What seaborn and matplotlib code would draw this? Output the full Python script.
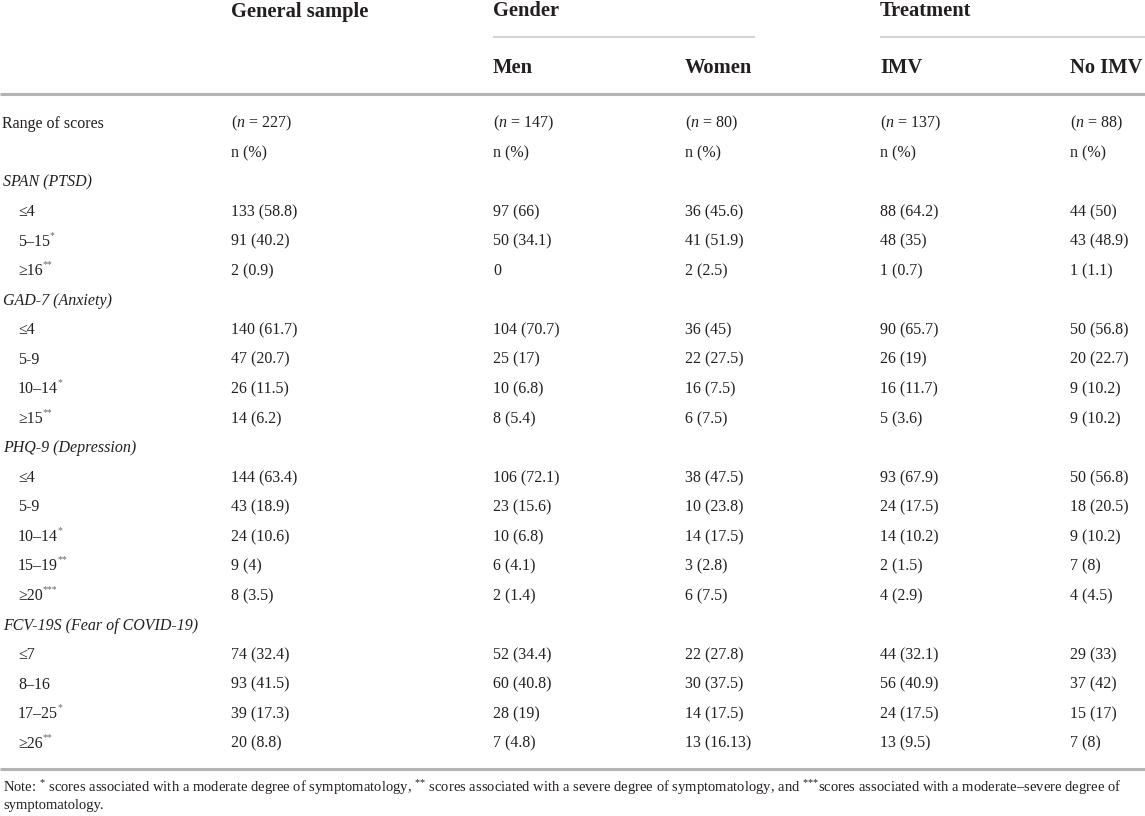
import matplotlib
matplotlib.use("Agg")
import matplotlib.pyplot as plt
import seaborn as sns

# column headers
group_labels = ["General sample", "Gender", "Treatment"]
sub_labels = ["Men", "Women", "IMV", "No IMV"]
n_counts = [227, 147, 80, 137, 88]

# score scales and their ranges (superscript marks kept apart)
scales = ["SPAN (PTSD)", "GAD-7 (Anxiety)", "PHQ-9 (Depression)", "FCV-19S (Fear of COVID-19)"]
ranges = [
    [("≤4", ""), ("5–15", "*"), ("≥16", "**")],
    [("≤4", ""), ("5-9", ""), ("10–14", "*"), ("≥15", "**")],
    [("≤4", ""), ("5-9", ""), ("10–14", "*"), ("15–19", "**"), ("≥20", "***")],
    [("≤7", ""), ("8–16", ""), ("17–25", "*"), ("≥26", "**")],
]

# cells: general, men, women, imv, no imv
span_rows = [
    ["133 (58.8)", "97 (66)", "36 (45.6)", "88 (64.2)", "44 (50)"],
    ["91 (40.2)", "50 (34.1)", "41 (51.9)", "48 (35)", "43 (48.9)"],
    ["2 (0.9)", "0", "2 (2.5)", "1 (0.7)", "1 (1.1)"],
]
gad_rows = [
    ["140 (61.7)", "104 (70.7)", "36 (45)", "90 (65.7)", "50 (56.8)"],
    ["47 (20.7)", "25 (17)", "22 (27.5)", "26 (19)", "20 (22.7)"],
    ["26 (11.5)", "10 (6.8)", "16 (7.5)", "16 (11.7)", "9 (10.2)"],
    ["14 (6.2)", "8 (5.4)", "6 (7.5)", "5 (3.6)", "9 (10.2)"],
]
phq_rows = [
    ["144 (63.4)", "106 (72.1)", "38 (47.5)", "93 (67.9)", "50 (56.8)"],
    ["43 (18.9)", "23 (15.6)", "10 (23.8)", "24 (17.5)", "18 (20.5)"],
    ["24 (10.6)", "10 (6.8)", "14 (17.5)", "14 (10.2)", "9 (10.2)"],
    ["9 (4)", "6 (4.1)", "3 (2.8)", "2 (1.5)", "7 (8)"],
    ["8 (3.5)", "2 (1.4)", "6 (7.5)", "4 (2.9)", "4 (4.5)"],
]
fcv_rows = [
    ["74 (32.4)", "52 (34.4)", "22 (27.8)", "44 (32.1)", "29 (33)"],
    ["93 (41.5)", "60 (40.8)", "30 (37.5)", "56 (40.9)", "37 (42)"],
    ["39 (17.3)", "28 (19)", "14 (17.5)", "24 (17.5)", "15 (17)"],
    ["20 (8.8)", "7 (4.8)", "13 (16.13)", "13 (9.5)", "7 (8)"],
]
cells = [span_rows, gad_rows, phq_rows, fcv_rows]

# braces around each * stop mathtext from spacing them like operators
note_1 = ("Note: $^{*}$ scores associated with a moderate degree of symptomatology, "
          "$^{{*}{*}}$ scores associated with a severe degree of symptomatology, and "
          "$^{{*}{*}{*}}$scores associated with a moderate–severe degree of")
note_2 = "symptomatology."

sns.set_theme(style="white")
plt.rcParams["font.family"] = ["Liberation Serif", "DejaVu Serif"]
plt.rcParams["mathtext.fontset"] = "custom"
plt.rcParams["mathtext.rm"] = "Liberation Serif"
plt.rcParams["mathtext.it"] = "Liberation Serif:italic"

ink = "#231f20"
rule = "#b4b4b4"
body = 11.5
head = 14.8

fig = plt.figure(figsize=(11.45, 8.16), dpi=100)
ax = fig.add_axes([0, 0, 1, 1])
ax.set_xlim(0, 1145)
ax.set_ylim(816, 0)
ax.axis("off")

col_x = [231, 493, 685, 880, 1070]

# header
ax.text(col_x[0], 16.5, group_labels[0], fontsize=head, fontweight="bold", color=ink, va="baseline")
ax.text(col_x[1], 16.5, group_labels[1], fontsize=head, fontweight="bold", color=ink, va="baseline")
ax.text(col_x[3], 16.5, group_labels[2], fontsize=head, fontweight="bold", color=ink, va="baseline")
ax.hlines(37, 493, 755, color="#cccccc", lw=1.2)
ax.hlines(37, 880, 1145, color="#cccccc", lw=1.2)
for x, lab in zip(col_x[1:], sub_labels):
    ax.text(x, 72.7, lab, fontsize=head, fontweight="bold", color=ink, va="baseline")
ax.hlines(94, 0, 1145, color=rule, lw=2.2)

step = 29.52
base = 127.7

def put(row, x, s, **kw):
    return ax.text(x, base + step * row, s, fontsize=body, color=ink, va="baseline", **kw)

put(0, 2, "Range of scores")
for x, n in zip(col_x, n_counts):
    put(0, x, f"($n$ = {n})")
    put(1, x, "n (%)")

row = 2
for scale, rngs, block in zip(scales, ranges, cells):
    put(row, 3, scale, style="italic")
    row += 1
    for (lab, mark), vals in zip(rngs, block):
        t = put(row, 18, lab)
        if mark:
            ax.annotate(mark, xy=(1.0, 0.62), xycoords=t, fontsize=7, color="#666666",
                        va="bottom", ha="left")
        for x, v in zip(col_x, vals):
            put(row, x, v)
        row += 1

ax.hlines(769, 0, 1145, color=rule, lw=2.2)
ax.text(3, 791.7, note_1, fontsize=10.5, color=ink, va="baseline")
ax.text(3, 808.7, note_2, fontsize=10.5, color=ink, va="baseline")

fig.savefig("out.png", dpi=100)
